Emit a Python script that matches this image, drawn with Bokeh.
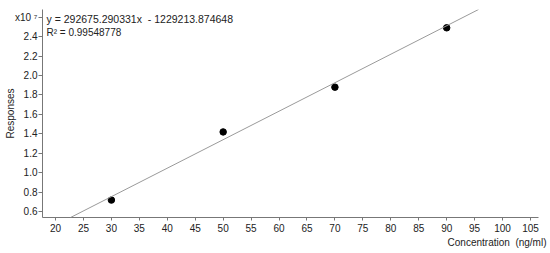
from bokeh.plotting import figure
from bokeh.models import Slope, Label, FixedTicker, CustomJSTickFormatter, ColumnDataSource, Range1d, Title
from bokeh.embed import file_html
from bokeh.resources import INLINE

# Data
concentration = [30, 50, 70, 90]
responses = [0.72e7, 1.42e7, 1.88e7, 2.49e7]
x_ticks = [20, 25, 30, 35, 40, 45, 50, 55, 60, 65, 70, 75, 80, 85, 90, 95, 100, 105]
y_ticks = [0.6e7, 0.8e7, 1.0e7, 1.2e7, 1.4e7, 1.6e7, 1.8e7, 2.0e7, 2.2e7, 2.4e7, 2.6e7]
slope_val = 292675.290331
intercept_val = -1229213.874648
r2_val = 0.99548778
x_title = "Concentration\u00a0\u00a0(ng/ml)"
y_title = "Responses"
multiplier_label = "x10 \u2077"

FONT = "Liberation Sans"

p = figure(width=550, height=253, output_backend="svg", toolbar_location=None,
           x_range=Range1d(17.67, 106.43), y_range=Range1d(0.541e7, 2.678e7),
           min_border_left=42, min_border_right=12, min_border_top=9, min_border_bottom=36)
p.outline_line_color = None
p.grid.visible = False
p.background_fill_color = "white"

src = ColumnDataSource(dict(x=concentration, y=responses))

p.add_layout(Slope(gradient=slope_val, y_intercept=intercept_val,
                   line_color="#9a9a9a", line_width=1))
p.scatter("x", "y", source=src, size=6.5, color="black")

for ax in (p.xaxis[0], p.yaxis[0]):
    ax.axis_line_color = "#777777"
    ax.major_tick_line_color = "#777777"
    ax.minor_tick_line_color = None
    ax.major_tick_in = 0
    ax.major_label_text_font = FONT
    ax.major_label_text_font_size = "10px"
    ax.major_label_text_color = "#222222"

p.xaxis[0].ticker = FixedTicker(ticks=x_ticks)
p.xaxis[0].major_tick_out = 3
p.xaxis[0].major_label_standoff = 3

p.yaxis[0].ticker = FixedTicker(ticks=y_ticks)
p.yaxis[0].major_tick_out = 4
p.yaxis[0].major_label_standoff = 1
p.yaxis[0].formatter = CustomJSTickFormatter(
    args=dict(mult=multiplier_label),
    code="return tick > 2.5e7 ? mult : (tick/1e7).toFixed(1);")
p.yaxis[0].axis_label = y_title
p.yaxis[0].axis_label_text_font = FONT
p.yaxis[0].axis_label_text_font_size = "10px"
p.yaxis[0].axis_label_text_font_style = "normal"
p.yaxis[0].axis_label_text_color = "#222222"
p.yaxis[0].axis_label_standoff = -4

t = Title(text=x_title, align="right", offset=-8, standoff=0,
          text_font=FONT, text_font_size="10px", text_font_style="normal",
          text_color="#222222")
p.add_layout(t, "below")

def lab(text, x, y, size="10px"):
    p.add_layout(Label(x=x, y=y, x_units="screen", y_units="screen", text=text,
                       text_font=FONT, text_font_size=size, text_color="#222222",
                       text_align="left", text_baseline="alphabetic"))

lab("y = %.6fx\u00a0\u00a0- %.6f" % (slope_val, -intercept_val), 4, 198.2, size="10.5px")
lab("R\u00b2 = %.8f" % r2_val, 4, 184.7)

open("out.html", "w").write(file_html(p, INLINE))
